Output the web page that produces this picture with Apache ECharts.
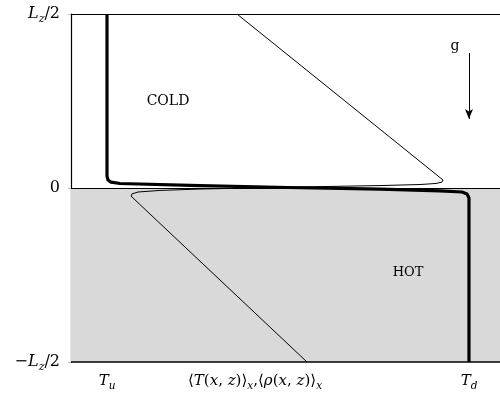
<!DOCTYPE html>
<html>
<head>
<meta charset="utf-8">
<style>
  html, body { margin: 0; padding: 0; background: #fff; }
  #chart { width: 500px; height: 393px; }
</style>
</head>
<body>
<div id="chart"></div>
<script src="https://cdn.jsdelivr.net/npm/echarts@6/dist/echarts.min.js"></script>
<script>
const chart = echarts.init(document.getElementById('chart'));

// horizontal axis: normalised 0..100, vertical: z from -Lz/2 (-1) to Lz/2 (1)
const xTickValues = [8.4, 42.9, 92.8];
const xTickLabels = ['{i|T}{sub|u}',
  '{n|⟨}{i|T}{n|(}{i|x}{n|, }{i|z}{n|)⟩}{sub|x}{n|,⟨}{i|ρ}{n|(}{i|x}{n|, }{i|z}{n|)⟩}{sub|x}',
  '{i|T}{sub|d}'];
const yTickValues = [-1, 0, 1];
const yTickLabels = ['{n|−}{i|L}{sub|z}{n|/2}', '{n|0}', '{i|L}{sub|z}{n|/2}'];

// mean temperature profile (thick)
const tempX = [8.39, 8.39, 8.62, 9.32, 11.42, 30.07, 50.58, 72.03, 86.01, 91.14, 92.31, 92.77, 92.77];
const tempZ = [1, 0.069, 0.046, 0.034, 0.026, 0.014, 0.003, -0.006, -0.017, -0.023, -0.034, -0.057, -1];

// mean density profile (thin)
const rhoX = [38.69, 86.71, 86.48, 85.08, 81.35, 72.03, 53.38, 30.07, 20.75, 15.62, 14.22, 13.99, 14.69, 55.01];
const rhoZ = [1, 0.046, 0.034, 0.026, 0.020, 0.014, 0.006, -0.006, -0.014, -0.023, -0.034, -0.046, -0.063, -1];

const serif = 'DejaVu Serif';
function richSet(size, subSize, drop) {
  return {
    n: { fontFamily: serif, fontSize: size, color: '#000' },
    i: { fontFamily: serif, fontSize: size, fontStyle: 'italic', color: '#000' },
    sub: { fontFamily: serif, fontSize: subSize, fontStyle: 'italic', color: '#000', padding: [drop, 0, 0, 0] }
  };
}

const pairs = (xs, zs) => xs.map((x, k) => [x, zs[k]]);

const option = {
  animation: false,
  grid: { left: 71, right: 0, top: 14, bottom: 31 },
  xAxis: {
    type: 'value', min: 0, max: 100,
    axisLine: { show: false },
    splitLine: { show: false },
    axisTick: { show: true, customValues: [xTickValues[0], xTickValues[2]], length: 4, lineStyle: { color: '#999' } },
    axisLabel: {
      customValues: xTickValues,
      margin: 9,
      formatter: v => xTickLabels[xTickValues.indexOf(v)] || '',
      rich: richSet(15, 10.5, 10)
    }
  },
  yAxis: {
    type: 'value', min: -1, max: 1, interval: 1,
    axisLine: { show: true, lineStyle: { color: '#000', width: 1.2 } },
    splitLine: { show: false },
    axisTick: { show: true, length: 3, lineStyle: { color: '#bbb' } },
    axisLabel: {
      margin: 11,
      formatter: v => yTickLabels[yTickValues.indexOf(v)] || '',
      rich: richSet(16, 11, 10)
    }
  },
  series: [
    {
      type: 'line',
      data: [],
      silent: true,
      z: 1,
      markArea: {
        silent: true,
        itemStyle: { color: '#d9d9d9' },
        data: [[{ yAxis: -1 }, { yAxis: 0 }]]
      },
      markLine: {
        silent: true,
        symbol: ['none', 'none'],
        label: { show: false },
        lineStyle: { color: '#000', type: 'solid', width: 1 },
        data: [{ yAxis: 0 }, { yAxis: 1 }, { yAxis: -1, lineStyle: { width: 1.5 } }]
      }
    },
    {
      type: 'line',
      data: pairs(rhoX, rhoZ),
      showSymbol: false,
      lineStyle: { color: '#000', width: 1 },
      z: 3
    },
    {
      type: 'line',
      data: pairs(tempX, tempZ),
      showSymbol: false,
      lineStyle: { color: '#000', width: 3.2, join: 'round' },
      z: 4,
      markLine: {
        silent: true,
        symbol: ['none', 'arrow'],
        symbolSize: [6, 10],
        label: { show: false },
        lineStyle: { color: '#000', type: 'solid', width: 1 },
        data: [[{ coord: [92.77, 0.776] }, { coord: [92.77, 0.397] }]]
      }
    }
  ],
  graphic: [
    { type: 'text', z: 100, x: 168, y: 101, style: { text: 'COLD', font: '14px "DejaVu Serif"', fill: '#000', align: 'center', verticalAlign: 'middle' } },
    { type: 'text', z: 100, x: 408, y: 273, style: { text: 'HOT', font: '13px "DejaVu Serif"', fill: '#000', align: 'center', verticalAlign: 'middle' } },
    { type: 'text', z: 100, x: 455, y: 46, style: { text: 'g', font: '14px "DejaVu Serif"', fill: '#000', align: 'center', verticalAlign: 'middle' } }
  ]
};

chart.setOption(option);
</script>
</body>
</html>
